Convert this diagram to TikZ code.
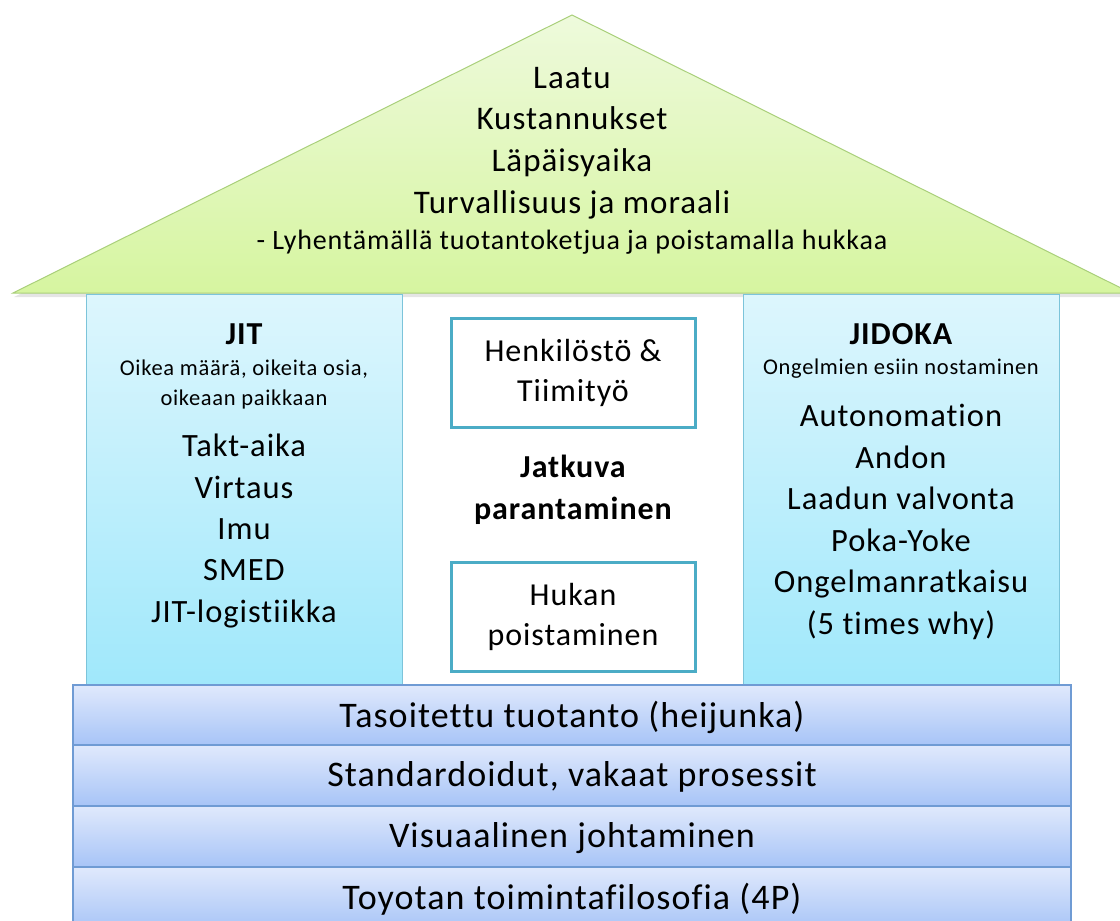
\documentclass[tikz,border=0pt]{standalone}
\usepackage{fontspec}
\setmainfont{Carlito}[LetterSpace=3, Ligatures={NoCommon,TeX}]
\usetikzlibrary{shadows}
\definecolor{roofTop}{HTML}{EEFADC}
\definecolor{roofBot}{HTML}{D6F5A0}
\definecolor{roofLine}{HTML}{A9CF7A}
\definecolor{pillarTop}{HTML}{DDF6FD}
\definecolor{pillarBot}{HTML}{A0E8FB}
\definecolor{pillarLine}{HTML}{7CC4DA}
\definecolor{boxLine}{HTML}{4BACC6}
\definecolor{baseTop}{HTML}{E0E9FC}
\definecolor{baseBot}{HTML}{A7C4F7}
\definecolor{baseLine}{HTML}{6F9BD4}
\tikzset{
  pillar/.style={draw=pillarLine, line width=1pt, top color=pillarTop, bottom color=pillarBot},
  basebar/.style={draw=baseLine, line width=1.2pt, top color=baseTop, bottom color=baseBot},
  ideabox/.style={draw=boxLine, line width=3pt, fill=white},
  txt/.style={inner sep=0pt, align=center, text=black},
}
\begin{document}
\begin{tikzpicture}[x=1pt,y=-1pt]
\useasboundingbox (0,0) rectangle (1120,921);
\begin{scope}
\clip (0,0) rectangle (1120,921);
% roof with a soft shadow along its lower edge
\fill[black!20, opacity=0.5] (14,297) -- (573,19) -- (1132,297) -- cycle;
\path[draw=roofLine, line width=1pt, top color=roofTop, bottom color=roofBot]
  (13,293) -- (572,15) -- (1131,293) -- cycle;
% pillars
\path[pillar] (86,294) rectangle (402,685);
\path[pillar] (743,294) rectangle (1059,685);
% foundation
\path[basebar] (73,685) rectangle (1071,745);
\path[basebar] (73,745) rectangle (1071,806);
\path[basebar] (73,806) rectangle (1071,867);
\path[basebar] (73,867) rectangle (1071,930);
% centre boxes
\node[ideabox, minimum width=244pt, minimum height=109pt] (people) at (573,372.5) {};
\node[ideabox, minimum width=244pt, minimum height=109pt] (waste) at (573,616.5) {};
\end{scope}

% roof text
\node[txt, font=\fontsize{33}{41.7}\selectfont] (goals) at (572,143) {Laatu\\Kustannukset\\Läpäisyaika\\Turvallisuus ja moraali};
\node[txt, font=\fontsize{28}{30}\selectfont] (how) at (572,242) {- Lyhentämällä tuotantoketjua ja poistamalla hukkaa};

% JIT pillar
\node[txt, font=\fontsize{32}{34}\selectfont\bfseries] (jit) at (244,334) {JIT};
\node[txt, font=\fontsize{22.5}{30}\selectfont] (jitsub) at (244,384) {Oikea määrä, oikeita osia,\\oikeaan paikkaan};
\node[txt, font=\fontsize{32.5}{41.3}\selectfont] (jitlist) at (244,531) {Takt-aika\\Virtaus\\Imu\\SMED\\JIT-logistiikka};

% JIDOKA pillar
\node[txt, font=\fontsize{32}{34}\selectfont\bfseries] (jidoka) at (901,334) {JIDOKA};
\node[txt, font=\fontsize{22.5}{30}\selectfont] (jidsub) at (901,369) {Ongelmien esiin nostaminen};
\node[txt, font=\fontsize{32.5}{41.6}\selectfont] (jidlist) at (901,522) {Autonomation\\Andon\\Laadun valvonta\\Poka-Yoke\\Ongelmanratkaisu\\(5 times why)};

% centre column
\node[txt, font=\fontsize{32}{40}\selectfont] at (people) {Henkilöstö \&\\Tiimityö};
\node[txt, font=\fontsize{32}{42}\selectfont\bfseries] (kaizen) at (573,490) {Jatkuva\\parantaminen};
\node[txt, font=\fontsize{32}{40}\selectfont] at (waste) {Hukan\\poistaminen};

% foundation text
\node[txt, font=\fontsize{36}{38}\selectfont] (heij) at (572,717) {Tasoitettu tuotanto (heijunka)};
\node[txt, font=\fontsize{36}{38}\selectfont] (std) at (572,777) {Standardoidut, vakaat prosessit};
\node[txt, font=\fontsize{36}{38}\selectfont] (vis) at (572,838) {Visuaalinen johtaminen};
\node[txt, font=\fontsize{36}{38}\selectfont] (fourp) at (572,899) {Toyotan toimintafilosofia (4P)};
\end{tikzpicture}
\end{document}
